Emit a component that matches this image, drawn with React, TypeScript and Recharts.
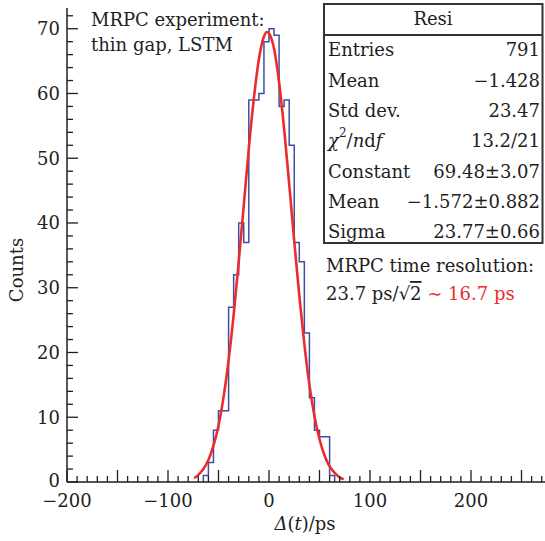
import React from 'react';
import { ComposedChart, Line, XAxis, YAxis } from 'recharts';

// ---- data ----
const binLowEdges = [-65, -60, -55, -50, -45, -40, -35, -30, -25, -20, -15, -10, -5, 0, 5, 10, 15, 20, 25, 30, 35, 40, 45, 50, 55, 60];
const binCounts = [1, 3, 8, 11, 11, 27, 32, 40, 37, 59, 59, 60, 68, 70, 69, 58, 59, 52, 37, 34, 23, 13, 8, 7, 7, 1];
const BIN_WIDTH = 5;

const fitX = [-74, -70, -65, -60, -55, -50, -45, -40, -35, -30, -25, -20, -15, -10, -5, -2, 0, 5, 10, 15, 20, 25, 30, 35, 40, 45, 50, 55, 60, 65, 70, 74];
const fitY = [0.6, 1.1, 2.0, 3.4, 5.6, 8.7, 13.1, 18.8, 25.8, 34.0, 42.7, 51.5, 59.2, 65.3, 68.8, 69.5, 69.3, 66.9, 61.7, 54.5, 46.0, 37.2, 28.8, 21.3, 15.0, 10.2, 6.6, 4.1, 2.4, 1.4, 0.7, 0.4];

const xTickLabels = [-200, -100, 0, 100, 200];
const yTickLabels = [0, 10, 20, 30, 40, 50, 60, 70];

const statsRows: [string, string][] = [
  ['Entries', '791'],
  ['Mean', '\u22121.428'],
  ['Std dev.', '23.47'],
  ['CHI', '13.2/21'],
  ['Constant', '69.48\u00b13.07'],
  ['Mean', '\u22121.572\u00b10.882'],
  ['Sigma', '23.77\u00b10.66'],
];

// ---- derived tables for the library ----
const histData = [
  { x: binLowEdges[0], y: 0 },
  ...binLowEdges.map((lo, i) => ({ x: lo, y: binCounts[i] })),
  { x: binLowEdges[binLowEdges.length - 1] + BIN_WIDTH, y: 0 },
];
const fitData = fitX.map((x, i) => ({ x, y: fitY[i] }));

const X_MIN = -200;
const X_MAX = 300;
const Y_MAX = 73.2;
const xTicks: number[] = [];
for (let v = X_MIN; v <= X_MAX; v += 10) xTicks.push(v);
const yTicks: number[] = [];
for (let v = 0; v <= 72; v += 2) yTicks.push(v);

const FONT = '"DejaVu Serif", serif';
const INK = '#1e1e1e';
const BLUE = '#3f4fa0';
const RED = '#ea2c2c';

const fmt = (v: number) => (v < 0 ? '\u2212' + Math.abs(v) : String(v));

const XTick = (props: any) => {
  const { x, y, payload } = props;
  const v = payload.value as number;
  const len = v % 50 === 0 ? 12 : 6;
  return (
    <g>
      <line x1={x} x2={x} y1={y} y2={y - len} stroke={INK} strokeWidth={1.3} />
      {xTickLabels.includes(v) && (
        <text x={x} y={y + 18} textAnchor="middle" dominantBaseline="central" fontFamily={FONT} fontSize={18} fill={INK}>
          {fmt(v)}
        </text>
      )}
    </g>
  );
};

const YTick = (props: any) => {
  const { x, y, payload } = props;
  const v = payload.value as number;
  const len = v % 10 === 0 ? 11 : 6;
  return (
    <g>
      <line x1={x} x2={x + len} y1={y} y2={y} stroke={INK} strokeWidth={1.3} />
      {yTickLabels.includes(v) && (
        <text x={x - 7} y={v === 0 ? y - 2 : y} textAnchor="end" dominantBaseline="central" fontFamily={FONT} fontSize={18} fill={INK}>
          {fmt(v)}
        </text>
      )}
    </g>
  );
};

const rowY = [49, 80, 110, 140, 171, 201, 231];

export default function App() {
  return (
    <div style={{ position: 'absolute', left: 0, top: 0, width: 545, height: 541, overflow: 'hidden', background: '#fff' }}>
      <ComposedChart width={572} height={541} margin={{ top: 8, right: 0, bottom: 0, left: 0 }}>
        <XAxis
          xAxisId="top"
          orientation="top"
          type="number"
          domain={[X_MIN, X_MAX]}
          height={0}
          tick={false}
          tickLine={false}
          axisLine={{ stroke: INK, strokeWidth: 1.5 }}
          allowDataOverflow
        />
        <XAxis
          dataKey="x"
          type="number"
          domain={[X_MIN, X_MAX]}
          ticks={xTicks}
          interval={0}
          tickSize={0}
          tickMargin={0}
          tickLine={false}
          tick={<XTick />}
          height={59}
          axisLine={{ stroke: INK, strokeWidth: 1.5 }}
          allowDataOverflow
        />
        <YAxis
          type="number"
          domain={[0, Y_MAX]}
          ticks={yTicks}
          interval={0}
          tickSize={0}
          tickMargin={0}
          tickLine={false}
          tick={<YTick />}
          width={67}
          axisLine={{ stroke: INK, strokeWidth: 1.5 }}
          allowDataOverflow
        />
        <Line
          data={histData}
          dataKey="y"
          type="stepAfter"
          stroke={BLUE}
          strokeWidth={1.5}
          dot={false}
          activeDot={false}
          isAnimationActive={false}
        />
        <Line
          data={fitData}
          dataKey="y"
          type="monotone"
          stroke={RED}
          strokeWidth={2.6}
          dot={false}
          activeDot={false}
          isAnimationActive={false}
        />
      </ComposedChart>
      <svg width={545} height={541} style={{ position: 'absolute', left: 0, top: 0, pointerEvents: 'none' }}>
        <g fontFamily={FONT} fontSize={18} fill={INK}>
          <text x={16} y={270} textAnchor="middle" dominantBaseline="central" transform="rotate(-90 16 270)">
            Counts
          </text>
          <text x={305} y={523} textAnchor="middle" dominantBaseline="central">
            <tspan fontStyle="italic">{'\u0394'}</tspan>
            <tspan>(</tspan>
            <tspan fontStyle="italic">t</tspan>
            <tspan>)/ps</tspan>
          </text>
          <text x={91} y={19} dominantBaseline="central">MRPC experiment:</text>
          <text x={91} y={44} dominantBaseline="central">thin gap, LSTM</text>

          <rect x={324} y={4} width={218.5} height={239} fill="#fff" stroke="#333" strokeWidth={2} />
          <line x1={324} x2={542.5} y1={35} y2={35} stroke="#333" strokeWidth={2} />
          <text x={433} y={18} textAnchor="middle" dominantBaseline="central">Resi</text>
          {statsRows.map(([label, value], i) => (
            <g key={i}>
              {label === 'CHI' ? (
                <text x={328} y={rowY[i]} dominantBaseline="central">
                  <tspan fontStyle="italic">{'\u03c7'}</tspan>
                  <tspan dy={-7} fontSize={12}>2</tspan>
                  <tspan dy={7}>/</tspan>
                  <tspan fontStyle="italic">n</tspan>
                  <tspan>d</tspan>
                  <tspan fontStyle="italic">f</tspan>
                </text>
              ) : (
                <text x={328} y={rowY[i]} dominantBaseline="central">{label}</text>
              )}
              <text x={540} y={rowY[i]} textAnchor="end" dominantBaseline="central">{value}</text>
            </g>
          ))}

          <text x={326} y={265} dominantBaseline="central">MRPC time resolution:</text>
          <text x={326} y={293} dominantBaseline="central">
            <tspan>23.7 ps/{'\u221a'}</tspan>
            <tspan style={{ textDecoration: 'overline' }}>2</tspan>
            <tspan fill={RED}> {'\u223c'} 16.7 ps</tspan>
          </text>
        </g>
      </svg>
    </div>
  );
}
